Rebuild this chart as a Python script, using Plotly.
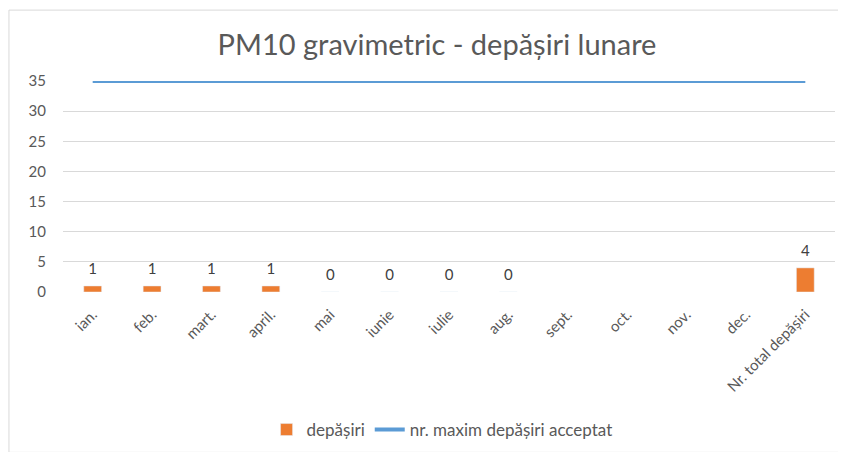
import plotly.graph_objects as go

categories = ["ian.", "feb.", "mart.", "april.", "mai", "iunie", "iulie", "aug.",
              "sept.", "oct.", "nov.", "dec.", "Nr. total depășiri"]
depasiri = [1, 1, 1, 1, 0, 0, 0, 0, None, None, None, None, 4]
max_acceptat = [35] * len(categories)
y_ticks = [0, 5, 10, 15, 20, 25, 30, 35]

FONT = "Lato"
GREY = "#595959"
W, H = 838, 444  # page adds 8px body margin

fig = go.Figure()
fig.add_trace(go.Bar(
    x=categories, y=depasiri, name="depășiri",
    marker=dict(color="#ED7D31"), width=0.3,
))
fig.add_trace(go.Scatter(
    x=categories, y=max_acceptat, name="nr. maxim depășiri acceptat",
    mode="lines", line=dict(color="#5B9BD5", width=4),
))
fig.add_trace(go.Scatter(
    x=categories, y=depasiri, mode="markers+text",
    marker=dict(size=12, color="rgba(0,0,0,0)"),
    text=[("" if v is None else str(v)) for v in depasiri],
    textposition="top center", textfont=dict(family=FONT, size=15, color="#404040"),
    showlegend=False, hoverinfo="skip", cliponaxis=False,
))

fig.update_layout(
    width=W, height=H,
    margin=dict(l=55, r=11, t=73, b=160, autoexpand=False),
    paper_bgcolor="white", plot_bgcolor="white",
    font=dict(family=FONT, color=GREY),
    title=dict(text="PM10 gravimetric - depășiri lunare", x=429 / W, xref="container",
               y=1 - 37 / H, yref="container", yanchor="middle", xanchor="center",
               font=dict(family=FONT, size=29, color=GREY), automargin=False),
    legend=dict(orientation="h", x=0.491, xanchor="center", y=-0.654, yanchor="middle",
                font=dict(family=FONT, size=17, color=GREY), traceorder="normal"),
    showlegend=True,
)
fig.update_yaxes(range=[0, 35], tickvals=y_ticks, showgrid=True, gridcolor="#D9D9D9",
                 gridwidth=1, zeroline=False, showline=False, automargin=False,
                 tickfont=dict(family=FONT, size=15, color=GREY), ticks="", ticklen=0,
                 ticklabelstandoff=16)
fig.update_xaxes(range=[-0.5, len(categories) - 0.5], tickangle=-45, showgrid=False,
                 showline=False, zeroline=False, automargin=False,
                 tickfont=dict(family=FONT, size=15, color=GREY), ticks="",
                 ticklabelstandoff=10)
fig.add_shape(type="rect", xref="paper", yref="paper",
              x0=-0.07, x1=1.013, y0=-0.76, y1=1.336,
              line=dict(color="#D9D9D9", width=1), layer="below")

fig.write_html("out.html")
